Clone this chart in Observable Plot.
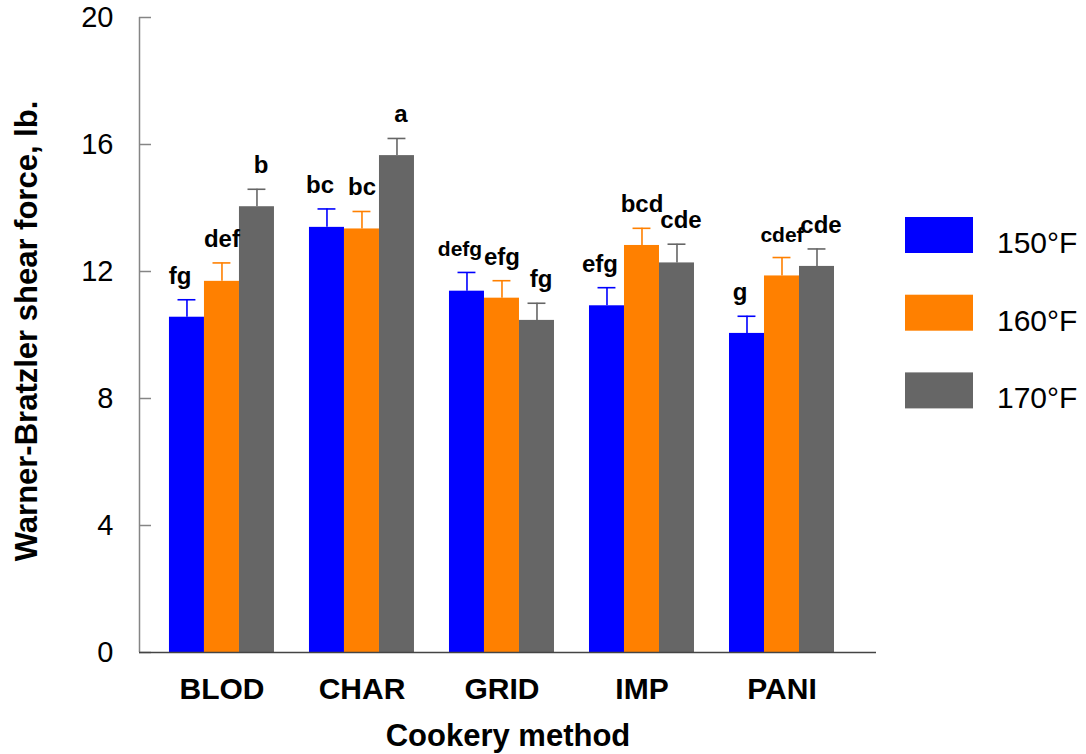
<!DOCTYPE html>
<html>
<head>
<meta charset="utf-8">
<script src="https://cdn.jsdelivr.net/npm/d3@7"></script>
<script src="https://cdn.jsdelivr.net/npm/@observablehq/plot@0.6"></script>
<style>
  html, body { margin: 0; padding: 0; background: #fff; }
  #chart { position: relative; width: 1086px; height: 754px; }
</style>
</head>
<body>
<div id="chart"></div>
<script>
// Cookery methods on the x axis and end-point temperatures as series
const methods = ["BLOD", "CHAR", "GRID", "IMP", "PANI"];
const temperatures = ["150°F", "160°F", "170°F"];

// Mean Warner-Bratzler shear force (lb.) per method
const shear150 = [10.56, 13.39, 11.38, 10.92, 10.05];
const shear160 = [11.69, 13.34, 11.16, 12.82, 11.86];
const shear170 = [14.04, 15.65, 10.46, 12.27, 12.16];

// Standard errors (upper whisker length)
const se150 = [0.55, 0.58, 0.59, 0.57, 0.54];
const se160 = [0.58, 0.55, 0.55, 0.54, 0.58];
const se170 = [0.55, 0.54, 0.54, 0.59, 0.55];

// Mean-separation letters
const letters150 = ["fg", "bc", "defg", "efg", "g"];
const letters160 = ["def", "bc", "efg", "bcd", "cdef"];
const letters170 = ["b", "a", "fg", "cde", "cde"];

const yTicks = [0, 4, 8, 12, 16, 20];
const barColors = ["#0000ff", "#ff8000", "#666666"];

// Layout of a group: each bar takes a quarter of a category step
const barWidth = 0.25;
const capHalf = 0.064;

const values = [shear150, shear160, shear170];
const errors = [se150, se160, se170];
const letters = [letters150, letters160, letters170];

const rows = [];
temperatures.forEach((temp, ti) => {
  methods.forEach((method, mi) => {
    rows.push({
      method, temp,
      value: values[ti][mi],
      se: errors[ti][mi],
      letter: letters[ti][mi],
      pos: mi + (ti - 1) * barWidth
    });
  });
});

const xMin = -0.589, xMax = 4.675;
const font = "'Liberation Sans', Arial, Helvetica, sans-serif";

// Letter labels sit above each whisker; long ones are set a little smaller,
// and the outer series are nudged apart so neighbours do not collide.
const letterShift = { "150°F": -7, "160°F": 0, "170°F": 4 };
const letterMarks = temperatures.map(t =>
  Plot.text(rows.filter(d => d.temp === t), {
    x: "pos",
    y: d => d.value + d.se,
    text: "letter",
    dx: letterShift[t],
    dy: -16,
    lineAnchor: "bottom",
    fontSize: d => (d.letter.length > 3 ? 21 : 24),
    fontWeight: "bold"
  })
);

const plot = Plot.plot({
  width: 1086,
  height: 754,
  marginLeft: 139,
  marginRight: 210,
  marginTop: 17,
  marginBottom: 102,
  style: { fontFamily: font, background: "white", color: "black" },
  x: { domain: [xMin, xMax], label: null },
  y: { domain: [0, 20], label: null },
  color: { domain: temperatures, range: barColors },
  marks: [
    Plot.rectY(rows, {
      x1: d => d.pos - barWidth / 2,
      x2: d => d.pos + barWidth / 2,
      y: "value",
      fill: "temp"
    }),
    // upper error whiskers with caps
    Plot.ruleX(rows, { x: "pos", y1: "value", y2: d => d.value + d.se, stroke: "temp", strokeWidth: 1.6 }),
    Plot.ruleY(rows, { y: d => d.value + d.se, x1: d => d.pos - capHalf, x2: d => d.pos + capHalf, stroke: "temp", strokeWidth: 1.6 }),
    ...letterMarks,
    // left axis line with inward ticks
    Plot.ruleX([xMin], { y1: 0, y2: 20, stroke: "#858585", strokeWidth: 1.5 }),
    Plot.axisY({ ticks: yTicks, tickSize: 12, dx: 12, tickFormat: () => "", stroke: "#858585", strokeWidth: 1.5 }),
    Plot.axisY({ ticks: yTicks, tickSize: 0, tickPadding: 26, fontSize: 29, label: null }),
    // baseline
    Plot.ruleY([0], { stroke: "#444", strokeWidth: 1.5 }),
    Plot.axisX({
      ticks: methods.map((m, i) => i),
      tickFormat: i => methods[i],
      tickSize: 0,
      tickPadding: 25,
      fontSize: 30,
      fontWeight: "bold",
      label: null
    }),
    Plot.text(["Cookery method"], { frameAnchor: "bottom", dy: 93, lineAnchor: "bottom", fontSize: 31, fontWeight: "bold" }),
    Plot.text(["Warner-Bratzler shear force, lb."], {
      frameAnchor: "left", textAnchor: "middle", dx: -112, dy: -4, rotate: -90, fontSize: 31, fontWeight: "bold"
    })
  ]
});

// Legend: swatches stacked to the right of the bars
const color = plot.scale("color");
const legend = d3.select(plot).append("g")
  .attr("transform", "translate(905,217)")
  .attr("font-family", font)
  .attr("text-anchor", "start");
temperatures.forEach((t, i) => {
  const g = legend.append("g").attr("transform", `translate(0,${i * 77.7})`);
  g.append("rect").attr("width", 68).attr("height", 36).attr("fill", color.apply(t));
  g.append("text").attr("x", 92).attr("y", 36).attr("font-size", 30).attr("fill", "black").text(t);
});

document.getElementById("chart").appendChild(plot);
</script>
</body>
</html>
